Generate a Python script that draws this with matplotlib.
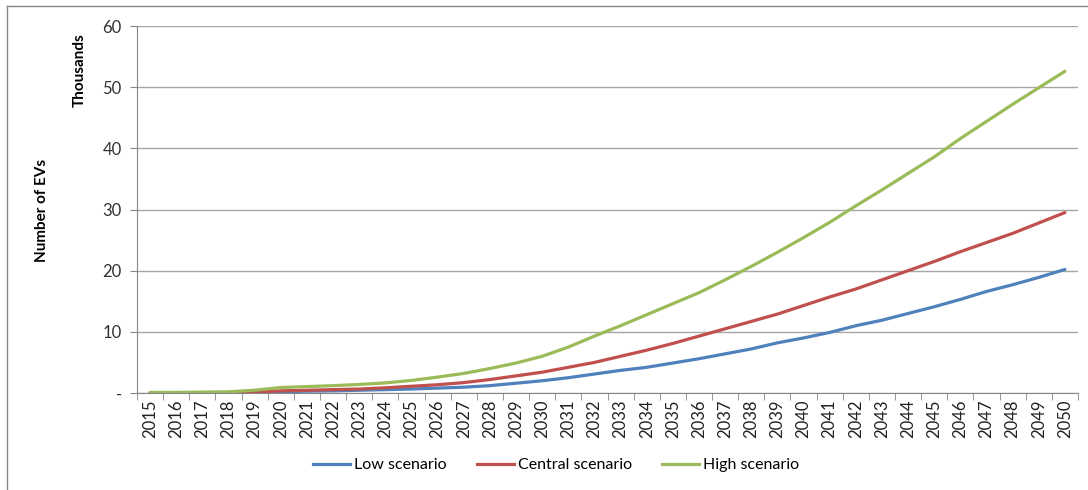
import matplotlib.pyplot as plt
from matplotlib.lines import Line2D

# EV uptake projections, thousands of vehicles
years = list(range(2015, 2051))
low = [0.0, 0.0, 0.0, 0.0, 0.1, 0.2, 0.3, 0.35, 0.45, 0.55, 0.65, 0.8, 0.95, 1.2,
       1.6, 2.0, 2.5, 3.1, 3.7, 4.2, 4.9, 5.6, 6.4, 7.2, 8.2, 9.0, 9.9, 11.0,
       11.9, 13.0, 14.1, 15.3, 16.6, 17.7, 18.9, 20.2]
central = [0.0, 0.0, 0.0, 0.0, 0.15, 0.35, 0.45, 0.55, 0.65, 0.85, 1.1, 1.35, 1.7, 2.2,
           2.8, 3.4, 4.2, 5.0, 6.0, 7.0, 8.1, 9.3, 10.5, 11.7, 12.9, 14.3, 15.7, 17.0,
           18.5, 20.0, 21.5, 23.1, 24.6, 26.1, 27.8, 29.5]
high = [0.1, 0.1, 0.15, 0.2, 0.45, 0.9, 1.05, 1.2, 1.4, 1.65, 2.05, 2.6, 3.2, 4.0,
        4.9, 6.0, 7.5, 9.3, 11.0, 12.8, 14.6, 16.4, 18.5, 20.7, 23.0, 25.4, 27.9, 30.6,
        33.2, 35.9, 38.6, 41.6, 44.4, 47.2, 49.9, 52.6]
series = [('Low scenario', low, '#4F81BD'),
          ('Central scenario', central, '#C0504D'),
          ('High scenario', high, '#9BBB59')]

plt.rcParams['font.family'] = ['Lato', 'DejaVu Sans']

fig = plt.figure(figsize=(10.88, 4.90), dpi=100)
ax = fig.add_axes([137 / 1088, 1 - 393 / 490, 941 / 1088, 367 / 490])

x = list(range(len(years)))
for name, vals, col in series:
    ax.plot(x, vals, color=col, lw=2.3, label=name, solid_capstyle='round')

ax.set_xlim(-0.5, len(years) - 0.5)
ax.set_ylim(0, 60)
ax.set_yticks(range(0, 61, 10))
ax.set_yticklabels(['-'] + [str(v) for v in range(10, 61, 10)], fontsize=12, color='#333333')
ax.set_xticks(x)
ax.set_xticklabels([str(y) for y in years], rotation=90, fontsize=12, color='#222222')
ax.set_xticks([i - 0.5 for i in range(len(years) + 1)], minor=True)
ax.tick_params(axis='x', which='major', length=0, pad=5)
ax.tick_params(axis='x', which='minor', length=5, color='#868686')
ax.tick_params(axis='y', length=5, color='#868686', pad=6)

ax.grid(axis='y', color='#A6A6A6', lw=1)
ax.set_axisbelow(True)
for s in ['top', 'right']:
    ax.spines[s].set_visible(False)
for s in ['left', 'bottom']:
    ax.spines[s].set_color('#868686')

fig.text(42 / 1088, 1 - 210 / 490, 'Number of EVs', rotation=90, fontsize=11,
         fontweight='bold', ha='center', va='center')
fig.text(80 / 1088, 1 - 70 / 490, 'Thousands', rotation=90, fontsize=11,
         fontweight='bold', ha='center', va='center')

handles = [Line2D([], [], color=c, lw=2.3) for _, _, c in series]
fig.legend(handles, [n for n, _, _ in series], loc='center',
           bbox_to_anchor=(556 / 1088, 1 - 465 / 490), ncol=3, frameon=False,
           fontsize=11.5, handlelength=2.3, columnspacing=1.9, handletextpad=0.25)

# chart frame edges
fig.add_artist(Line2D([7 / 1088, 1], [1 - 6.5 / 490] * 2, color='#868686', lw=1))
fig.add_artist(Line2D([7 / 1088] * 2, [0, 1 - 6.5 / 490], color='#868686', lw=1))

fig.savefig('out.png', dpi=100)
